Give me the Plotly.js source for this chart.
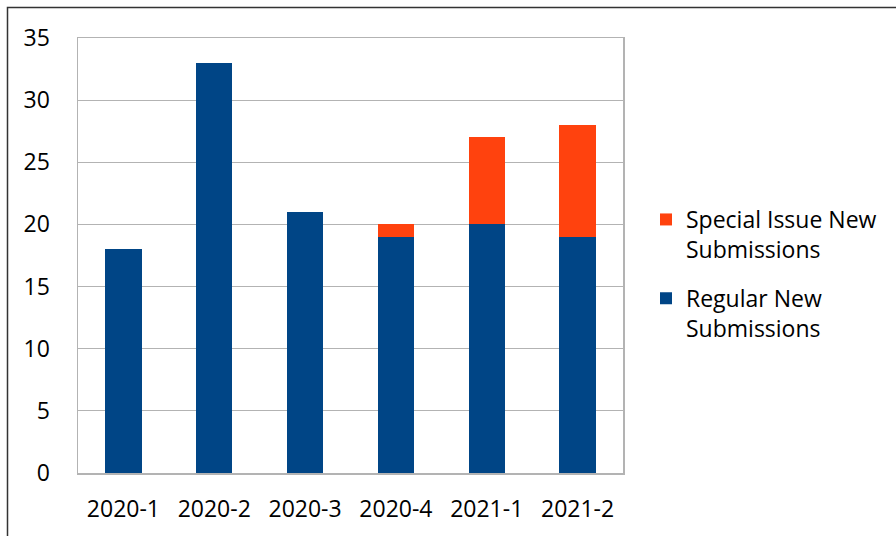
<!DOCTYPE html>
<html>
<head>
<meta charset="utf-8">
<script src="https://cdn.plot.ly/plotly-3.0.1.min.js"></script>
<style>html,body{margin:0;padding:0;background:#fff;}#chart{width:896px;height:536px;}</style>
</head>
<body>
<div id="chart"></div>
<script>
const categories = ["2020-1", "2020-2", "2020-3", "2020-4", "2021-1", "2021-2"];
const regularNew = [18, 33, 21, 19, 20, 19];
const specialNew = [0, 0, 0, 1, 7, 9];
const yTicks = [0, 5, 10, 15, 20, 25, 30, 35];

const fontFam = "Open Sans, Noto Sans, sans-serif";
const traces = [
  {type: "bar", name: "Regular New<br>Submissions", x: categories, y: regularNew,
   marker: {color: "#004586"}, legendgroup: "a", legendrank: 2, hoverinfo: "y"},
  {type: "bar", name: "Special Issue New<br>Submissions", x: categories, y: specialNew,
   marker: {color: "#FF420E"}, legendgroup: "b", legendrank: 1, hoverinfo: "y"}
];

const pl = 78, pr = 623, pt = 38, pb = 473;
const W = pr - pl, H = pb - pt;
const px = v => (v - pl) / W;
const py = v => (pb - v) / H;

const layout = {
  width: 896, height: 536,
  margin: {l: pl, r: 896 - pr, t: pt, b: 536 - pb, pad: 0},
  paper_bgcolor: "#fff", plot_bgcolor: "#fff",
  barmode: "stack", bargap: 0.6,
  font: {family: fontFam, size: 23, color: "#000"},
  showlegend: true,
  legend: {x: px(646), xanchor: "left", y: py(274), yanchor: "middle",
           traceorder: "grouped", tracegroupgap: 16, valign: "top",
           font: {family: fontFam, size: 23, color: "#000"}, itemwidth: 30},
  xaxis: {type: "category", showgrid: false, showline: true, mirror: true,
          linecolor: "#b3b3b3", linewidth: 1.5, ticks: "", ticklabelstandoff: 15,
          tickfont: {family: fontFam, size: 23}},
  yaxis: {range: [0, 35], tickvals: yTicks, ticktext: yTicks.map(String),
          showgrid: true, gridcolor: "#b3b3b3", gridwidth: 1.2,
          showline: true, mirror: true, linecolor: "#b3b3b3", linewidth: 1.5,
          zeroline: false, ticks: "", ticklabelstandoff: 22,
          tickfont: {family: fontFam, size: 23}},
  shapes: [{type: "path", xref: "paper", yref: "paper",
            path: "M " + px(7.5) + " " + py(545) + " L " + px(7.5) + " " + py(7.5) + " L " + px(905) + " " + py(7.5),
            line: {color: "#333333", width: 1.5}}]
};

Plotly.newPlot("chart", traces, layout, {displayModeBar: false, staticPlot: true});
</script>
</body>
</html>
